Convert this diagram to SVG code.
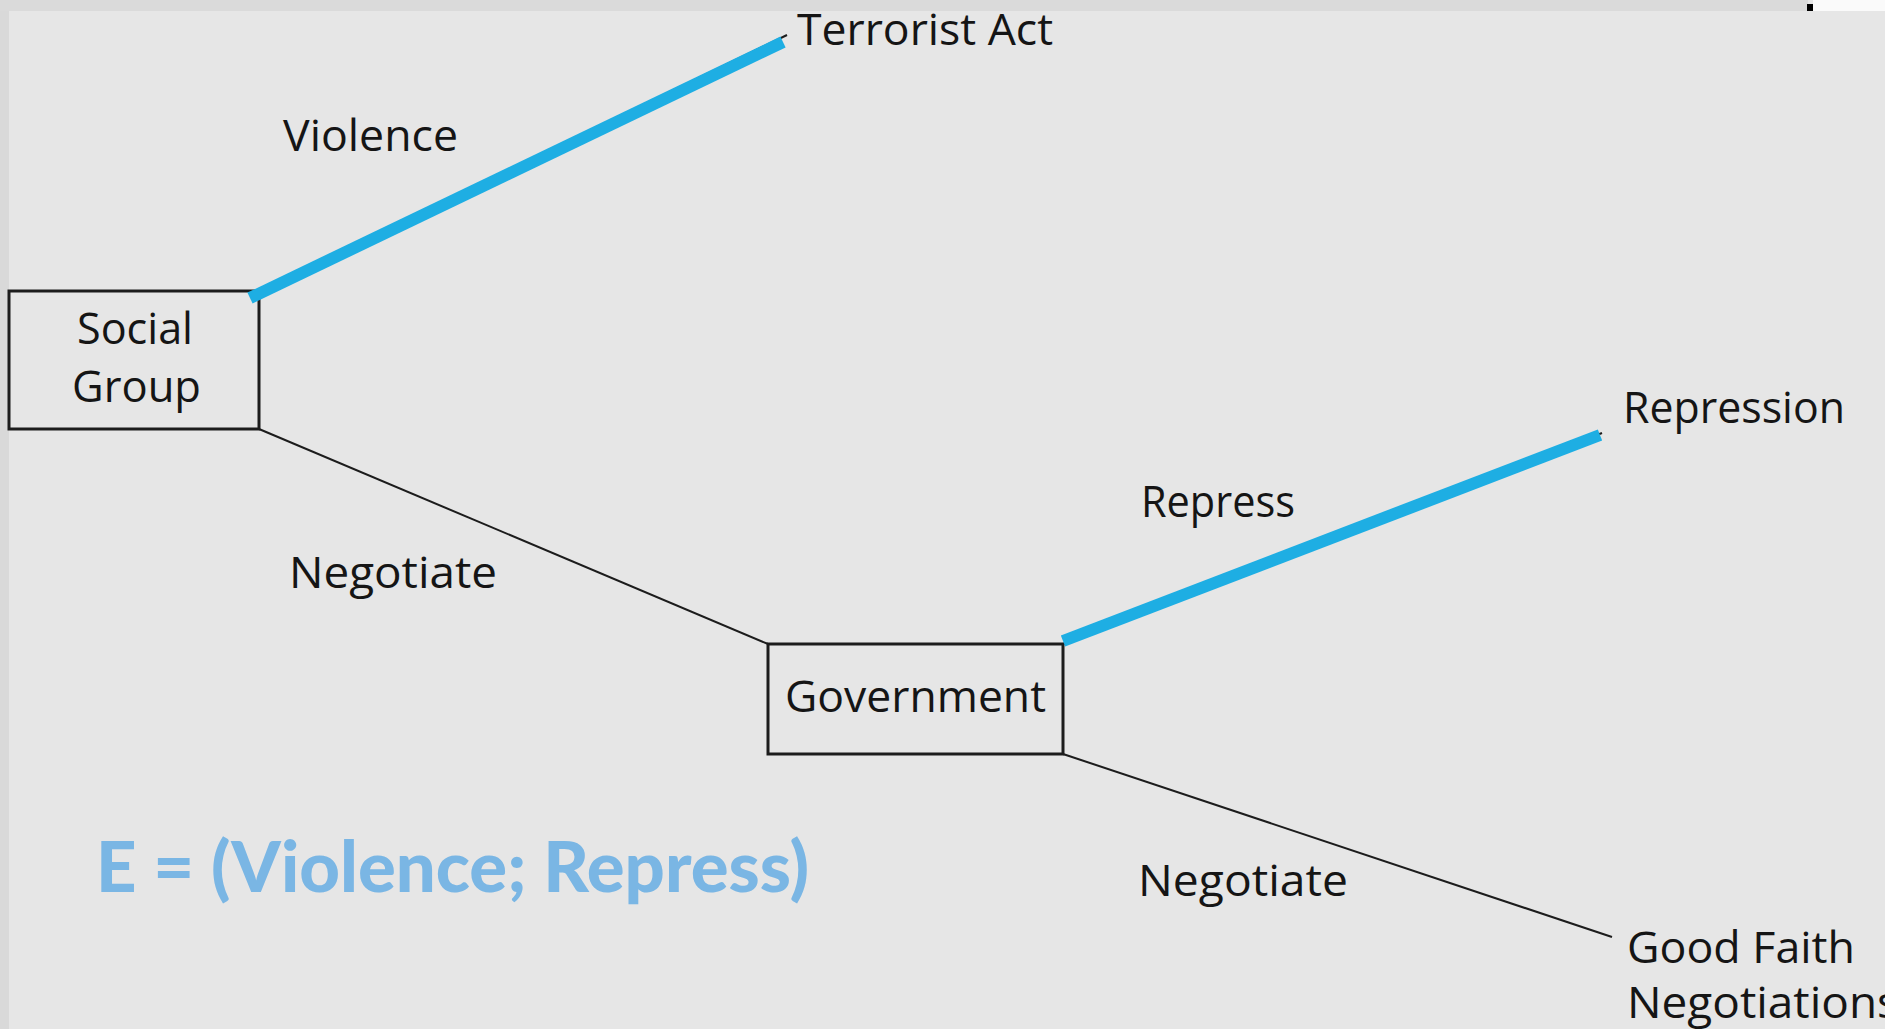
<svg xmlns="http://www.w3.org/2000/svg" width="1885" height="1029" viewBox="0 0 1885 1029">
  <style>
    .lbl { font-family: "Open Sans", "Liberation Sans", sans-serif; font-size: 44px; fill: #151515; }
    .box { fill: #e6e6e6; stroke: #1c1c1c; stroke-width: 3; }
    .edge { stroke: #1c1c1c; stroke-width: 2; fill: none; }
    .pick { stroke: #1eaee3; stroke-width: 12; stroke-linecap: butt; fill: none; }
    .eq { font-family: "Lato", "Open Sans", sans-serif; font-weight: 900; font-size: 71px; fill: #7ab6e4; }
  </style>

  <!-- page background and scanned edges -->
  <rect x="0" y="0" width="1885" height="1029" fill="#e6e6e6"/>
  <rect x="0" y="0" width="9" height="1029" fill="#d9d9d9"/>
  <rect x="0" y="0" width="1808" height="11" fill="#dadada"/>
  <rect x="1813" y="0" width="72" height="11" fill="#fafafa"/>
  <rect x="1807" y="4" width="6" height="7" fill="#000"/>

  <!-- decision nodes -->
  <g id="social-group">
    <rect class="box" x="9" y="291" width="250" height="138"/>
    <text class="lbl" x="77" y="344" textLength="116" lengthAdjust="spacingAndGlyphs">Social</text>
    <text class="lbl" x="72" y="402" textLength="129" lengthAdjust="spacingAndGlyphs">Group</text>
  </g>
  <g id="government">
    <rect class="box" x="768" y="644" width="295" height="110"/>
    <text class="lbl" x="785" y="712" textLength="261" lengthAdjust="spacingAndGlyphs">Government</text>
  </g>

  <!-- outcomes -->
  <g id="terrorist-act">
    <text class="lbl" x="797" y="45" textLength="256" lengthAdjust="spacingAndGlyphs">Terrorist Act</text>
  </g>
  <g id="repression">
    <text class="lbl" x="1623" y="423" textLength="222" lengthAdjust="spacingAndGlyphs">Repression</text>
  </g>
  <g id="good-faith">
    <text class="lbl" x="1627" y="963" textLength="228" lengthAdjust="spacingAndGlyphs">Good Faith</text>
    <text class="lbl" x="1627" y="1018" textLength="272" lengthAdjust="spacingAndGlyphs">Negotiations</text>
  </g>

  <!-- game tree branches, equilibrium path drawn on top -->
  <g id="connectors">
    <line class="edge" x1="259" y1="291" x2="787" y2="35"/>
    <line class="edge" x1="259" y1="429" x2="768" y2="644"/>
    <line class="edge" x1="1063" y1="644" x2="1602" y2="433"/>
    <line class="edge" x1="1063" y1="754" x2="1612" y2="937"/>
    <line class="pick" x1="250" y1="298" x2="783" y2="42"/>
    <line class="pick" x1="1063" y1="641" x2="1600" y2="435"/>
  </g>

  <!-- action labels -->
  <g id="action-labels">
    <text class="lbl" x="283" y="151" textLength="175" lengthAdjust="spacingAndGlyphs">Violence</text>
    <text class="lbl" x="289" y="588" textLength="208" lengthAdjust="spacingAndGlyphs">Negotiate</text>
    <text class="lbl" x="1141" y="517" textLength="154" lengthAdjust="spacingAndGlyphs">Repress</text>
    <text class="lbl" x="1138" y="896" textLength="210" lengthAdjust="spacingAndGlyphs">Negotiate</text>
  </g>

  <!-- equilibrium annotation -->
  <g id="equilibrium">
    <text class="eq" x="96" y="892" textLength="713" lengthAdjust="spacingAndGlyphs">E = (Violence; Repress)</text>
  </g>
</svg>
